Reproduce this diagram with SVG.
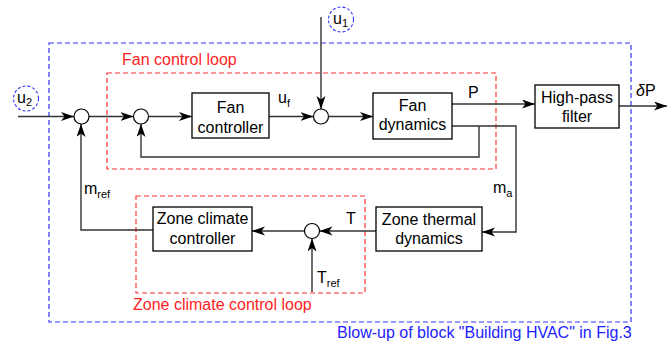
<svg xmlns="http://www.w3.org/2000/svg" width="667" height="345" viewBox="0 0 667 345">
  <style>
    text { font-family: "Liberation Sans", Arial, sans-serif; font-size: 16px; fill: #000; }
    .box { fill: #fff; stroke: #000; stroke-width: 1.3; }
    .sum { fill: #fff; stroke: #000; stroke-width: 1.2; }
    .wire { fill: none; stroke: #333; stroke-width: 1.4; }
    .arr { marker-end: url(#ah); }
    .blue { fill: none; stroke: #3333ff; stroke-width: 1.2; stroke-dasharray: 5 3; }
    .red { fill: none; stroke: #ff3333; stroke-width: 1.2; stroke-dasharray: 5 3; }
    .sub { font-size: 11px; }
    .redt { fill: #ff2222; }
    .bluet { fill: #2222ff; }
    .mid { text-anchor: middle; }
  </style>
  <defs>
    <marker id="ah" markerUnits="userSpaceOnUse" markerWidth="14" markerHeight="10" refX="13" refY="4.5" orient="auto">
      <path d="M0,0 L13,4.5 L0,9 L3.5,4.5 z" fill="#000"/>
    </marker>
  </defs>

  <!-- outer block and loop frames -->
  <g id="frames">
    <rect class="blue" x="49" y="43" width="582" height="279"/>
    <rect class="red" x="107" y="73" width="389" height="96"/>
    <rect class="red" x="136" y="196" width="229" height="97"/>
    <text class="redt" x="122" y="65">Fan control loop</text>
    <text class="redt" x="133" y="310">Zone climate control loop</text>
    <text class="bluet" x="337" y="338">Blow-up of block "Building HVAC" in Fig.3</text>
  </g>

  <!-- connectors -->
  <g id="connectors">
    <path class="wire arr" d="M18,116.5 H74"/>
    <path class="wire arr" d="M89,116.5 H133.5"/>
    <path class="wire arr" d="M148.5,116.5 H192"/>
    <path class="wire arr" d="M269,116.5 H313.5"/>
    <path class="wire arr" d="M321,17 V109"/>
    <path class="wire arr" d="M328.5,116.5 H373"/>
    <path class="wire arr" d="M452,104 H535"/>
    <path class="wire arr" d="M619,106 H667"/>
    <path class="wire arr" d="M452,126 H516 V232 H482"/>
    <path class="wire arr" d="M479,126 V157 H141 V124"/>
    <path class="wire arr" d="M376,231 H319.5"/>
    <path class="wire arr" d="M304.5,231 H252"/>
    <path class="wire arr" d="M312,292 V238.5"/>
    <path class="wire arr" d="M153,230 H81 V124"/>
  </g>

  <!-- external inputs -->
  <g id="u1">
    <circle cx="341" cy="19.5" r="12.5" fill="none" stroke="#3333ff" stroke-width="1.1" stroke-dasharray="3 2"/>
    <text x="333" y="24">u<tspan class="sub" dy="3">1</tspan></text>
  </g>
  <g id="u2">
    <circle cx="26" cy="98.5" r="12.5" fill="none" stroke="#3333ff" stroke-width="1.1" stroke-dasharray="3 2"/>
    <text x="17" y="103">u<tspan class="sub" dy="3">2</tspan></text>
  </g>

  <!-- summing junctions -->
  <g id="sum1"><circle class="sum" cx="81.5" cy="116.5" r="7.5"/></g>
  <g id="sum2"><circle class="sum" cx="141" cy="116.5" r="7.5"/></g>
  <g id="sum3"><circle class="sum" cx="321" cy="116.5" r="7.5"/></g>
  <g id="sum4"><circle class="sum" cx="312" cy="231" r="7.5"/></g>

  <!-- blocks -->
  <g id="fan-controller">
    <rect class="box" x="192" y="93" width="77" height="45"/>
    <text class="mid" x="230.5" y="113">Fan</text>
    <text class="mid" x="230.5" y="133">controller</text>
  </g>
  <g id="fan-dynamics">
    <rect class="box" x="373" y="93" width="79" height="46"/>
    <text class="mid" x="412.5" y="111">Fan</text>
    <text class="mid" x="412.5" y="130">dynamics</text>
  </g>
  <g id="high-pass-filter">
    <rect class="box" x="535" y="85" width="84" height="43"/>
    <text class="mid" x="577" y="103">High-pass</text>
    <text class="mid" x="577" y="122">filter</text>
  </g>
  <g id="zone-thermal-dynamics">
    <rect class="box" x="376" y="207" width="106" height="44"/>
    <text class="mid" x="429" y="225">Zone thermal</text>
    <text class="mid" x="429" y="244">dynamics</text>
  </g>
  <g id="zone-climate-controller">
    <rect class="box" x="153" y="207" width="99" height="44"/>
    <text class="mid" x="202.5" y="224">Zone climate</text>
    <text class="mid" x="202.5" y="244">controller</text>
  </g>

  <!-- signal labels -->
  <g id="labels">
    <text x="278" y="103">u<tspan class="sub" dy="4">f</tspan></text>
    <text x="468" y="98">P</text>
    <text x="636" y="96"><tspan font-style="italic">δ</tspan>P</text>
    <text x="84" y="194">m<tspan class="sub" dy="4">ref</tspan></text>
    <text x="493" y="193">m<tspan class="sub" dy="4">a</tspan></text>
    <text x="346" y="224">T</text>
    <text x="317" y="283">T<tspan class="sub" dy="4">ref</tspan></text>
  </g>
</svg>
